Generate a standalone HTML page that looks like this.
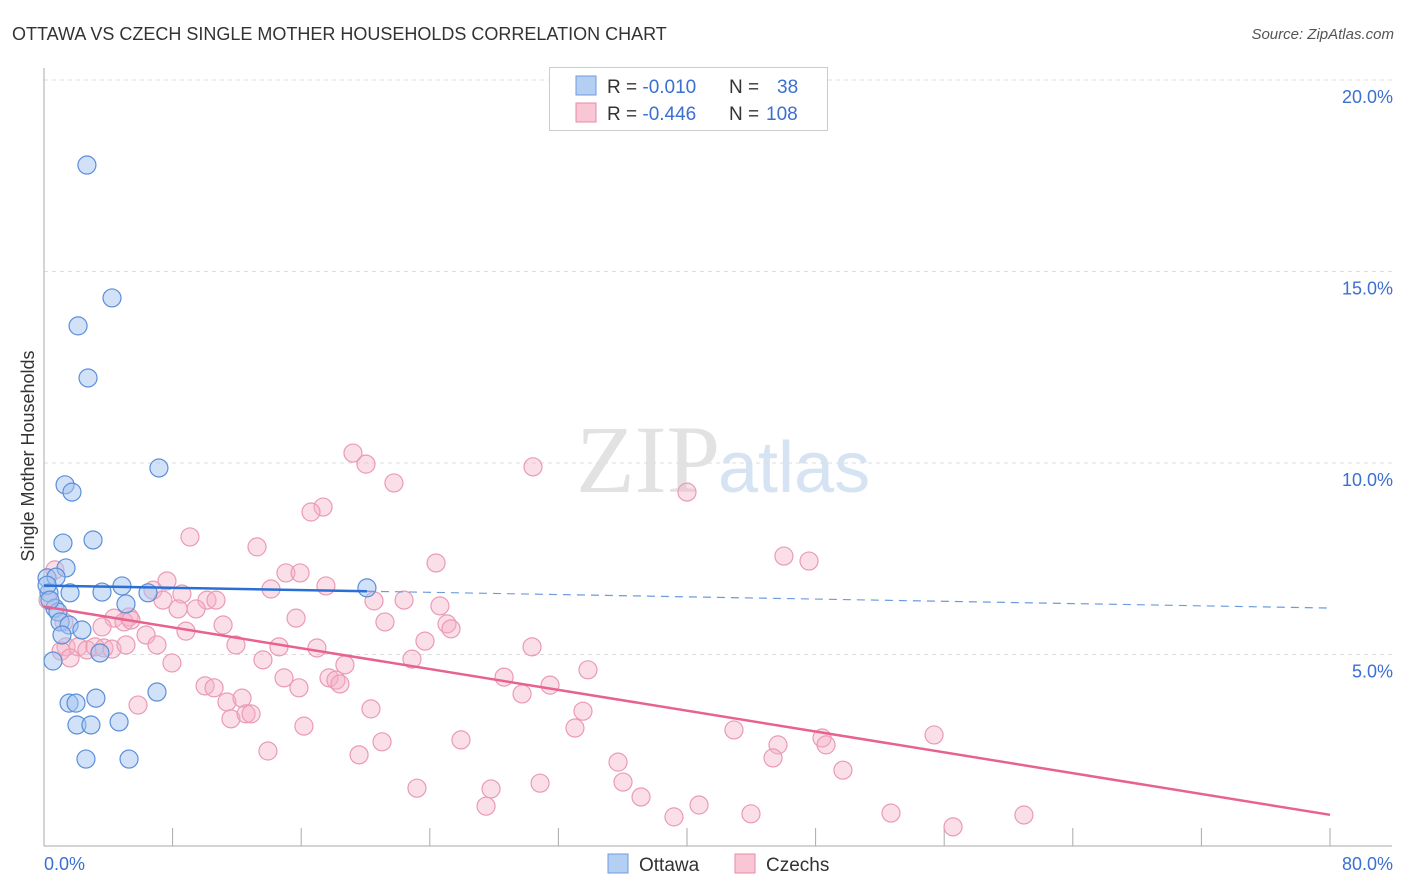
<!DOCTYPE html>
<html><head><meta charset="utf-8"><style>
body{margin:0;background:#fff;font-family:"Liberation Sans",sans-serif;}
svg{display:block}
</style></head><body>
<svg width="1406" height="892" id="chart">
<text x="12" y="40" font-size="18" fill="#333">OTTAWA VS CZECH SINGLE MOTHER HOUSEHOLDS CORRELATION CHART</text>
<text x="1394" y="39" font-size="15" fill="#555" font-style="italic" text-anchor="end">Source: ZipAtlas.com</text>
<text x="720" y="492" font-size="96" fill="#e2e2e2" text-anchor="end" font-family="Liberation Serif,serif">ZIP</text>
<text x="718" y="492" font-size="72" fill="#d6e3f3">atlas</text>
<g id="grid"></g>
<g id="axes"></g>
<g id="pts"></g>
<g id="lines"></g>
<text transform="translate(34,456) rotate(-90)" font-size="18" fill="#333" text-anchor="middle">Single Mother Households</text>
<text x="44" y="870" font-size="18" fill="#3b6fd0">0.0%</text>
<text x="1393" y="870" font-size="18" fill="#3b6fd0" text-anchor="end">80.0%</text>
<g>
<rect x="549.5" y="67.5" width="278" height="63" fill="#fff" stroke="#ccc"/>
<rect x="576" y="76" width="20" height="19" fill="#b5cff2" stroke="#6d9be0"/>
<rect x="576" y="103" width="20" height="19" fill="#f8c6d5" stroke="#e88aa8"/>
<text x="607" y="93" font-size="19" fill="#333">R = <tspan fill="#3b6fd0">-0.010</tspan><tspan x="729">N = </tspan><tspan x="777" fill="#3b6fd0">38</tspan></text>
<text x="607" y="120" font-size="19" fill="#333">R = <tspan fill="#3b6fd0">-0.446</tspan><tspan x="729">N = </tspan><tspan x="766" fill="#3b6fd0">108</tspan></text>
</g>
<g>
<rect x="608" y="854" width="20" height="19" fill="#b5cff2" stroke="#6d9be0"/>
<text x="639" y="871" font-size="19" fill="#333">Ottawa</text>
<rect x="735" y="854" width="20" height="19" fill="#f8c6d5" stroke="#e88aa8"/>
<text x="766" y="871" font-size="19" fill="#333">Czechs</text>
</g>
</svg>
<script>
const yTicks=[5,10,15,20];
const yTickLabels=["5.0%","10.0%","15.0%","20.0%"];
const ottawaX=[2.67,4.23,2.12,2.74,7.15,1.31,1.74,3.05,1.18,1.37,0.19,0.75,0.31,1.62,3.61,4.85,5.1,0.68,0.87,1.0,1.56,2.36,1.12,3.48,0.56,7.03,3.23,1.56,1.99,2.05,2.92,4.67,2.61,5.29,20.09,0.19,0.37,6.47];
const ottawaY=[17.78,14.31,13.58,12.22,9.87,9.43,9.24,7.99,7.91,7.26,7.0,7.02,6.61,6.61,6.63,6.79,6.32,6.21,6.11,5.85,5.77,5.64,5.51,5.04,4.83,4.02,3.86,3.73,3.73,3.16,3.16,3.24,2.27,2.27,6.74,6.81,6.42,6.61];
const czechX=[19.22,20.03,30.42,21.77,40.0,17.36,16.61,9.08,13.25,46.03,47.59,24.39,15.05,15.93,0.68,7.65,14.12,17.54,8.58,6.78,10.14,10.7,20.53,22.4,24.63,7.4,8.34,9.46,5.29,4.35,4.98,5.41,11.14,15.68,21.21,25.07,25.32,3.61,8.83,6.35,11.94,23.7,30.36,1.37,2.12,2.67,3.17,3.73,1.06,1.62,4.23,5.1,14.62,16.98,7.03,22.89,13.62,18.72,7.96,14.93,28.62,15.86,17.73,18.16,18.41,33.84,31.48,10.02,10.58,29.74,11.38,12.32,5.85,20.34,33.53,11.63,12.57,12.88,16.17,33.03,42.92,55.37,48.4,48.65,45.66,21.03,25.94,13.93,19.6,45.35,35.71,49.7,36.02,30.86,27.81,23.2,37.14,27.5,40.75,39.19,43.98,52.69,60.96,56.55,0.25,1.24];
const czechY=[10.26,9.97,9.9,9.48,9.24,8.85,8.72,8.07,7.81,7.57,7.44,7.39,7.13,7.13,7.21,6.92,6.71,6.79,6.58,6.68,6.42,6.42,6.4,6.42,6.27,6.42,6.19,6.19,5.98,5.95,5.85,5.9,5.77,5.95,5.85,5.8,5.67,5.72,5.61,5.51,5.25,5.35,5.2,5.2,5.2,5.12,5.2,5.17,5.09,4.91,5.14,5.25,5.2,5.17,5.25,4.88,4.86,4.73,4.78,4.39,4.41,4.13,4.39,4.33,4.23,4.6,4.2,4.18,4.13,3.97,3.76,3.86,3.68,3.58,3.52,3.32,3.45,3.45,3.13,3.08,3.03,2.9,2.82,2.64,2.64,2.72,2.77,2.48,2.38,2.3,2.19,1.98,1.67,1.64,1.49,1.51,1.28,1.04,1.07,0.76,0.84,0.86,0.81,0.5,6.42,5.85];
const NS='http://www.w3.org/2000/svg';
const X0=44,X1=1330,Y0=846,YTOP=80;
function sx(v){return X0+v*(X1-X0)/80;}
function sy(v){return Y0-v*(Y0-YTOP)/20;}
function mk(t,a,p){const e=document.createElementNS(NS,t);for(const k in a)e.setAttribute(k,a[k]);p.appendChild(e);return e;}
const grid=document.getElementById('grid'),axes=document.getElementById('axes'),pts=document.getElementById('pts'),lines=document.getElementById('lines');
yTicks.forEach((t,i)=>{
 const l=mk('line',{x1:X0,x2:1392,y1:sy(t),y2:sy(t),stroke:'#ddd','stroke-dasharray':'4,4'},grid);
 
 
 const tx=mk('text',{x:1393,y:sy(t)+23,'font-size':18,fill:'#3b6fd0','text-anchor':'end'},grid);
 tx.textContent=yTickLabels[i];
 
 
});
let a=mk('line',{x1:X0,x2:X0,y1:68,y2:Y0,stroke:'#aaa'},axes);


a=mk('line',{x1:X0,x2:1392,y1:Y0,y2:Y0,stroke:'#aaa'},axes);


for(let k=1;k<=10;k++){const t=mk('line',{x1:sx(k*8),x2:sx(k*8),y1:828,y2:Y0,stroke:'#aaa'},axes);
 
 }
function dots(xs,ys,fill,stroke,name){xs.forEach((x,i)=>{const c=mk('circle',{cx:sx(x),cy:sy(ys[i]),r:9,fill:fill,stroke:stroke,'stroke-width':1.2},pts);
 
 });}
dots(czechX,czechY,'rgba(246,176,198,0.4)','#eb9ab4','czech-point');
dots(ottawaX,ottawaY,'rgba(164,196,240,0.5)','#5b8fd9','ottawa-point');
function fit(xs,ys){const n=xs.length;let mx=0,my=0;xs.forEach((x,i)=>{mx+=x;my+=ys[i]});mx/=n;my/=n;let sxy=0,sxx=0;xs.forEach((x,i)=>{sxy+=(x-mx)*(ys[i]-my);sxx+=(x-mx)*(x-mx)});const b=sxy/sxx;return [my-b*mx,b];}
const fo=fit(ottawaX,ottawaY),fc=fit(czechX,czechY);
const omax=Math.max(...ottawaX);
let ln=mk('line',{x1:sx(0),y1:sy(fo[0]),x2:sx(omax),y2:sy(fo[0]+fo[1]*omax),stroke:'#2a6fd6','stroke-width':2.5},lines);


ln=mk('line',{x1:sx(omax),y1:sy(fo[0]+fo[1]*omax),x2:sx(80),y2:sy(fo[0]+fo[1]*80),stroke:'#6d9be0','stroke-width':1.2,'stroke-dasharray':'8,6'},lines);


ln=mk('line',{x1:sx(0),y1:sy(fc[0]),x2:sx(80),y2:sy(fc[0]+fc[1]*80),stroke:'#e8628f','stroke-width':2.5},lines);


</script>
</body></html>
